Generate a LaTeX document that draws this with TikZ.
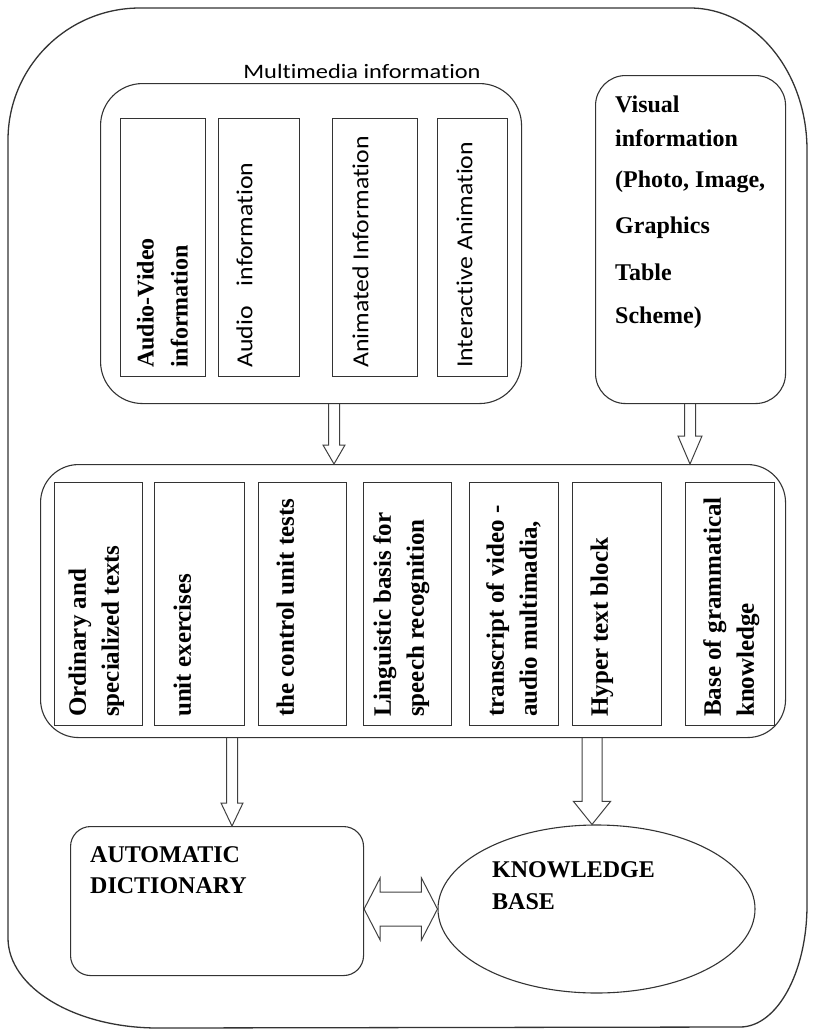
\documentclass[tikz,border=0pt]{standalone}
\usepackage{fontspec}
\usepackage{graphicx}
\setmainfont{Liberation Serif}
\newfontfamily\sansc[Ligatures={NoCommon,NoContextual}]{Carlito}
\usetikzlibrary{calc,shapes.geometric}

% hollow block arrow pointing down: from, to, shaft half width, head half width, head length
\newcommand\hollowdown[5]{%
  \draw[arrowink] let \p1=(#1), \p2=(#2) in
    (\x1-#3,\y1) -- (\x1-#3,\y2+#5) -- (\x1-#4,\y2+#5) -- (\x1,\y2)
    -- (\x1+#4,\y2+#5) -- (\x1+#3,\y2+#5) -- (\x1+#3,\y1);}

% hollow horizontal block arrow with heads at both ends
\newcommand\hollowboth[5]{%
  \draw[arrowink] let \p1=(#1), \p2=(#2) in
    (\x1,\y1) -- (\x1+#5,\y1+#4) -- (\x1+#5,\y1+#3) -- (\x2-#5,\y1+#3)
    -- (\x2-#5,\y1+#4) -- (\x2,\y1) -- (\x2-#5,\y1-#4) -- (\x2-#5,\y1-#3)
    -- (\x1+#5,\y1-#3) -- (\x1+#5,\y1-#4) -- cycle;}

\begin{document}
\begin{tikzpicture}[x=1pt,y=-1pt,
  ink/.style={draw=black!80, line width=1.1pt},
  arrowink/.style={draw=black!75, line width=1pt},
  panel/.style={ink, rectangle, inner sep=0pt, anchor=north west},
  cell/.style={ink, rectangle, inner sep=0pt, anchor=north west, minimum height=#1},
  vlabel/.style={rotate=90, anchor=north west, inner sep=0pt, align=left},
  vsans/.style={rotate=90, anchor=base west, inner sep=0pt,
    font=\sansc\fontsize{23}{28}\selectfont},
  boldtop/.style={font=\bfseries\fontsize{24}{34}\selectfont},
  boldmid/.style={font=\bfseries\fontsize{25}{33}\selectfont},
  hlabel/.style={anchor=north west, inner sep=0pt, align=left}]

\useasboundingbox (0,0) rectangle (812,1029);

% outer frame
\draw[ink, line width=1.3pt]
  (8,140) .. controls (8,67.1) and (67.1,8) .. (140,8) -- (690,8)
  .. controls (754.6,8) and (807,71.6) .. (807,150) -- (807,905)
  .. controls (807,972.4) and (777,1027) .. (740,1027) -- (158,1028)
  .. controls (75.2,1028) and (8,987.7) .. (8,938) -- cycle;

% containers
\node[panel, rounded corners=42pt, minimum width=421pt, minimum height=320pt] (mm) at (100,83) {};
\node[anchor=base, inner sep=0pt, font=\sansc\fontsize{20.5}{24}\selectfont] (mmtitle) at (362,78)
  {\scalebox{1.19}[1]{Multimedia information}};
\node[panel, rounded corners=30pt, minimum width=190pt, minimum height=328pt] (vis) at (595,75) {};
\node[panel, rounded corners=38pt, minimum width=745pt, minimum height=273pt] (mid) at (40,464) {};
\node[panel, rounded corners=20pt, minimum width=293pt, minimum height=149pt] (dict) at (70,826) {};
\node[ink, ellipse, inner sep=0pt, minimum width=317pt, minimum height=168pt] (kb) at (596.5,909) {};

% multimedia cells
\node[cell=258pt, minimum width=85pt] (av) at (120,118) {};
\node[cell=258pt, minimum width=81pt] (au) at (218,118) {};
\node[cell=258pt, minimum width=85pt] (an) at (332,118) {};
\node[cell=258pt, minimum width=70pt] (ia) at (437,118) {};

\node[vlabel, boldtop] (av-t) at (129.7,368) {\strut Audio-Video\\information};
\node[vsans] (au-t) at (252.4,368) {\scalebox{1.12}[1]{Audio\hspace{18pt}information}};
\node[vsans] (an-t) at (368.4,368) {\scalebox{1.12}[1]{Animated Information}};
\node[vsans] (ia-t) at (472.4,368) {\scalebox{1.12}[1]{Interactive Animation}};

% visual information text
\node[hlabel, boldtop] (vis-t) at (615,88.2)
  {\strut Visual\\information\\[7pt](Photo, Image,\\[12pt]Graphics\\[13pt]Table\\[9pt]Scheme)};

% content cells
\node[cell=243pt, minimum width=88pt] (ot) at (54,482) {};
\node[cell=243pt, minimum width=90pt] (ue) at (154,482) {};
\node[cell=243pt, minimum width=88pt] (cu) at (258,482) {};
\node[cell=243pt, minimum width=88pt] (lb) at (363,482) {};
\node[cell=243pt, minimum width=89pt] (tr) at (469,482) {};
\node[cell=243pt, minimum width=89pt] (ht) at (572,482) {};
\node[cell=243pt, minimum width=89pt] (bg) at (685,482) {};

\node[vlabel, boldmid] (ot-t) at (62.6,717) {\strut Ordinary and\\specialized texts};
\node[vlabel, boldmid] (ue-t) at (167.6,717) {\strut unit exercises};
\node[vlabel, boldmid] (cu-t) at (270.6,717) {\strut the control unit tests};
\node[vlabel, boldmid] (lb-t) at (367.6,717) {\strut Linguistic basis for\\speech recognition};
\node[vlabel, boldmid] (tr-t) at (480.6,717) {\strut transcript of video -\\audio multimadia,};
\node[vlabel, boldmid] (ht-t) at (584.6,717) {\strut Hyper text block};
\node[vlabel, boldmid] (bg-t) at (697.6,717) {\strut Base of grammatical\\knowledge};

% bottom blocks
\node[hlabel, font=\bfseries\fontsize{24}{31}\selectfont] (dict-t) at (90,840.3) {\strut AUTOMATIC\\DICTIONARY};
\node[hlabel, font=\bfseries\fontsize{24}{32}\selectfont] (kb-t) at (492,854.6) {\strut KNOWLEDGE\\BASE};

% arrow columns
\coordinate (c1) at (334,0);
\coordinate (c2) at (690,0);
\coordinate (c3) at (232,0);
\coordinate (c4) at (592,0);

\hollowdown{mm.south -| c1}{mid.north -| c1}{5.5pt}{11pt}{19pt}
\hollowdown{vis.south -| c2}{mid.north -| c2}{5.5pt}{12pt}{28pt}
\hollowdown{mid.south -| c3}{dict.north -| c3}{5.5pt}{11pt}{23pt}
\hollowdown{mid.south -| c4}{kb.north -| c4}{10pt}{18.5pt}{23pt}
\hollowboth{dict.east |- kb.west}{kb.west}{17pt}{31pt}{16pt}

\end{tikzpicture}
\end{document}
